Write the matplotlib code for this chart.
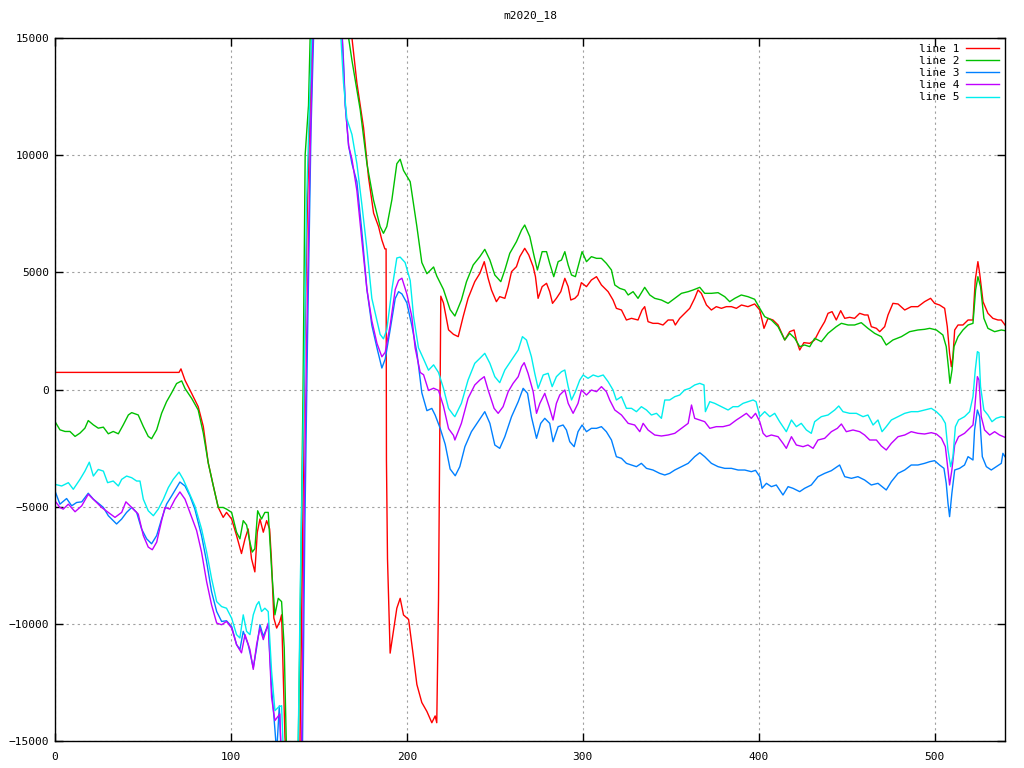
import matplotlib
matplotlib.use("Agg")
import matplotlib.pyplot as plt

title = "m2020_18"
labels = ["line 1", "line 2", "line 3", "line 4", "line 5"]
colors = ["#ff0000", "#00c000", "#0080ff", "#c000ff", "#00eeee"]
x_ticks = [0, 100, 200, 300, 400, 500]
y_ticks = [-15000, -10000, -5000, 0, 5000, 10000, 15000]

line1 = [(0,730),(70.5,730),(71.6,880),(73.9,395),(77.7,-170),(81.4,-733),(84.3,-1580),(87.1,-3130),(90,-4117),(92.8,-5034),(95.6,-5457),(97.5,-5245),(100.4,-5527),(103.2,-6232),(106,-7000),(108,-6373),(109.8,-5950),(111.7,-7219),(113.6,-7783),(115,-6090),(116.5,-5527),(118.4,-6090),(120.3,-5597),(122,-5950),(123,-7219),(124.4,-9757),(126,-10180),(127.8,-9900),(128.8,-9616),(130.7,-14833),(132,-16500),(139,-16500),(140.5,-8000),(142,2000),(143.5,8000),(145,12000),(146.5,16500),(166,17000),(168.8,15000),(171.6,13084),(175.4,11168),(178.2,9060),(181.1,7528),(183.9,6953),(185.8,6378),(187.5,6000),(188.2,6000),(188.4,-3010),(189,-7226),(190,-9908),(190.5,-11250),(192.4,-10290),(194.3,-9333),(196.2,-8912),(198.1,-9621),(201,-9812),(203.8,-11440),(205.7,-12590),(208.5,-13357),(211.4,-13740),(214.2,-14220),(216.1,-13930),(217,-14220),(218,-8950),(219.3,3983),(220.8,3696),(223.7,2546),(226.5,2354),(229.2,2255),(232,3108),(234.8,3890),(238.6,4602),(241.5,4957),(244,5455),(246.2,4744),(248.1,4246),(250.9,3748),(252.8,3962),(255.7,3890),(257.6,4389),(259.5,5028),(262.3,5242),(264.2,5669),(267,6024),(269.3,5740),(271.8,5242),(273.1,4815),(274.6,3890),(276.9,4389),(279.4,4531),(281.2,4175),(282.8,3677),(285,3890),(287.5,4175),(289.8,4744),(291.7,4389),(293.2,3819),(295.5,3890),(297.3,4033),(299.2,4559),(302.1,4389),(304.9,4673),(307.8,4815),(310.6,4460),(314.4,4175),(317.2,3819),(319.1,3464),(322,3392),(324.8,2966),(327.7,3037),(331.4,2966),(333.7,3392),(335.2,3535),(337.1,2895),(339.9,2823),(342.8,2823),(345.6,2752),(348.5,2966),(351.3,2966),(352.6,2752),(355.1,3037),(357.9,3250),(360.8,3464),(363.6,3890),(365.5,4246),(367.4,4104),(370.3,3606),(373.1,3392),(375.9,3535),(378.8,3464),(381.6,3535),(384.5,3535),(387.3,3464),(390.2,3606),(393.9,3535),(397.7,3650),(400.6,3393),(403,2610),(405.3,3037),(408.1,2966),(411,2753),(414.8,2113),(417.6,2468),(420.1,2540),(421.4,2113),(423.3,1686),(425.7,2000),(429,1970),(431.8,2113),(434.7,2540),(437.5,2895),(439.4,3251),(441.7,3322),(444.1,2966),(446.6,3365),(448.9,3037),(451.7,3080),(454.5,3037),(457.4,3251),(460.2,3180),(462.1,3180),(464,2682),(466.9,2610),(468.8,2468),(471.6,2682),(473.5,3180),(476.3,3677),(479.2,3649),(483,3393),(486.7,3535),(490.5,3535),(494.3,3749),(497.7,3891),(500,3677),(502.8,3606),(505.7,3464),(507.2,2682),(508.5,1544),(509.5,975),(510.4,1402),(511.4,2540),(513.3,2753),(516.1,2753),(519,2966),(521.8,2966),(523.1,4673),(524.6,5456),(525.6,4958),(527.5,3749),(530.3,3251),(533.1,3037),(536,2966),(537.9,2966),(540,2753)]

line2 = [(0,-1368),(2.8,-1720),(5.7,-1791),(8.5,-1791),(11.4,-2002),(14.2,-1861),(17,-1650),(18.9,-1326),(21.8,-1509),(24.6,-1650),(27.5,-1607),(30.3,-1890),(33.1,-1791),(36,-1890),(38.8,-1509),(41.7,-1086),(43.6,-987),(47.3,-1086),(50.2,-1579),(53,-2002),(54.9,-2101),(57.8,-1720),(60.6,-1015),(63.4,-522),(66.3,-141),(69.1,254),(72,367),(73.9,42),(77.7,-381),(81.4,-874),(84.3,-1861),(87.1,-3130),(90,-4117),(92.8,-5034),(95.6,-5034),(97.5,-5104),(100.4,-5245),(103.2,-6090),(105.1,-6373),(107,-5597),(108.9,-5780),(110.8,-6514),(112.1,-6937),(113.6,-6796),(115.2,-5175),(117.4,-5527),(119.3,-5245),(121.2,-5245),(123.1,-7642),(125,-9616),(126.9,-8911),(128.8,-9052),(130.3,-11026),(131,-13423),(131.6,-15500),(133,-16500),(138,-16500),(139.5,-9000),(141,0),(142.2,10020),(144.1,12126),(145.5,16500),(165,17000),(166.9,15000),(168.8,14040),(173.5,11935),(177.3,9635),(181,8100),(184.8,6953),(186.7,6665),(188.6,6953),(191.5,8100),(194.3,9635),(196.2,9827),(198.1,9348),(201.9,8868),(205.7,6953),(208.5,5420),(211.4,4941),(215.2,5228),(217,4845),(220.8,4270),(224.6,3408),(227.3,3136),(231,3819),(233.9,4602),(237.7,5313),(241.5,5669),(244.3,5981),(247.2,5526),(250,4886),(253.4,4602),(255.7,5100),(258.5,5811),(262.3,6309),(265.2,6806),(267,7020),(269.9,6522),(272.4,5669),(274.2,5100),(276.9,5882),(279.4,5882),(281.2,5384),(283.5,4815),(286,5455),(287.9,5526),(289.8,5882),(291.7,5313),(293.6,4886),(295.8,4815),(298.3,5526),(299.6,5882),(302.1,5455),(304.9,5669),(307.8,5597),(310.6,5597),(313.4,5384),(316.3,5100),(318.2,4460),(321,4317),(323.9,4246),(325.8,4033),(328.6,4175),(331.4,3890),(335.2,4360),(338.1,4033),(340.9,3890),(344.7,3819),(348.5,3677),(352.3,3890),(356.1,4104),(359.9,4175),(362.7,4246),(366.5,4360),(369.3,4104),(373.1,4104),(376.9,4132),(380.7,3961),(383.5,3748),(386.4,3890),(390.1,4033),(393.9,3961),(397.7,3850),(400.6,3464),(403.4,3109),(407.2,2966),(411,2682),(414.8,2113),(417.6,2397),(420.5,2184),(423.3,1828),(426.1,1899),(429,1828),(431.8,2184),(435.6,2042),(439.4,2397),(444.1,2682),(447,2824),(450.8,2753),(454.5,2753),(458.3,2852),(462.1,2610),(465.9,2397),(469.7,2255),(472.5,1899),(476.3,2113),(481.1,2255),(485.8,2468),(490.5,2540),(494.3,2568),(497.2,2610),(501,2540),(504.7,2326),(506.6,1828),(508,833),(508.7,264),(509.9,833),(511,1828),(513.3,2255),(516.1,2540),(519,2753),(521.8,2824),(523.3,4246),(524.6,4815),(526.1,4389),(528,3037),(530.3,2610),(534.1,2468),(537.9,2540),(540,2511)]

line3 = [(0,-4329),(2.8,-4893),(6.6,-4653),(9.5,-4963),(12.3,-4822),(15.2,-4794),(18.9,-4427),(21.8,-4681),(24.6,-4850),(27.5,-5034),(30.3,-5386),(35,-5739),(37.9,-5527),(40.7,-5245),(43.6,-5034),(46.4,-5245),(49.2,-5950),(52.1,-6373),(54.9,-6584),(57.8,-6232),(60.6,-5527),(63.4,-4893),(66.3,-4540),(71,-3948),(73.9,-4117),(76.7,-4540),(79.5,-5104),(83.3,-6232),(86.2,-7360),(89,-8629),(91.9,-9475),(94.7,-9898),(97.5,-9870),(100.4,-10110),(103.2,-10885),(105.1,-11097),(107,-10321),(109.8,-10885),(112.7,-11872),(114.6,-11026),(116.5,-10039),(118.4,-10532),(121.2,-10039),(123.1,-12718),(125,-14500),(126,-15500),(127.5,-13500),(129,-16500),(140.5,-16500),(142,-6000),(143.5,2000),(145.5,11000),(147.5,16500),(162,17000),(164,14000),(165,12126),(166.9,10400),(168.8,9635),(171.6,8869),(174.4,6761),(177.3,4270),(180.1,2738),(183,1780),(185.8,917),(187.7,1300),(190.5,2546),(193.4,3887),(195.3,4175),(197.2,4079),(200,3696),(202.8,2738),(205.7,1588),(208.5,-136),(211.4,-903),(214.2,-807),(216.1,-1094),(219,-1669),(221.8,-2340),(224.6,-3394),(227.5,-3681),(230.1,-3293),(233,-2440),(236.7,-1800),(240.5,-1373),(244.3,-946),(247.2,-1444),(250,-2369),(252.8,-2511),(255.7,-2013),(259.5,-1160),(263.3,-519),(266.1,50),(268.6,-164),(270.8,-1160),(273.7,-2084),(276.1,-1444),(278.4,-1230),(281.2,-1444),(283.1,-2227),(286,-1586),(288.8,-1515),(290.7,-1728),(292.6,-2227),(295.1,-2440),(297.3,-1800),(299.6,-1515),(302.1,-1800),(304.9,-1657),(307.8,-1657),(310.6,-1586),(313.4,-1800),(316.3,-2155),(319.1,-2867),(322,-2938),(324.8,-3151),(327.7,-3222),(330.5,-3293),(333.3,-3151),(336.2,-3365),(339.9,-3436),(343.7,-3578),(346.6,-3649),(349.4,-3578),(352.3,-3436),(356.1,-3293),(359.9,-3151),(363.6,-2867),(366.5,-2696),(369.3,-2867),(373.1,-3151),(376.9,-3293),(380.7,-3365),(384.5,-3365),(388.3,-3436),(392.1,-3436),(395.8,-3507),(398.2,-3450),(400.6,-3720),(401.9,-4217),(404.4,-4004),(407.2,-4146),(410,-4075),(413.8,-4502),(416.7,-4146),(419.5,-4217),(423.3,-4359),(426.1,-4217),(429.9,-4075),(433.7,-3720),(437.5,-3578),(441.3,-3464),(446,-3222),(448.9,-3720),(452.7,-3791),(456.4,-3720),(460.2,-3862),(464,-4075),(467.8,-4004),(472.5,-4288),(475.4,-3933),(479.2,-3578),(483,-3435),(486.7,-3222),(490.5,-3222),(494.3,-3151),(497.2,-3080),(500,-3037),(502.8,-3222),(505.3,-3364),(506.6,-4004),(507.6,-4857),(508.5,-5426),(509.8,-4430),(511.4,-3435),(514.2,-3364),(517,-3222),(519,-2866),(521.8,-3009),(522.7,-1728),(524.3,-875),(525.6,-1159),(527.1,-2866),(529.4,-3293),(532.2,-3435),(535,-3293),(537.9,-3151),(538.8,-2724),(540,-2866)]

line4 = [(0,-4752),(2.8,-5034),(4.7,-5104),(7.6,-4893),(11.4,-5217),(15.2,-4963),(18.9,-4470),(22.7,-4752),(26.5,-5034),(30.3,-5245),(34.1,-5457),(37.9,-5245),(40.3,-4794),(43.6,-5034),(47.3,-5316),(50.2,-6232),(53,-6725),(55.3,-6838),(57.8,-6514),(60.6,-5597),(62.5,-5034),(65.3,-5104),(68.2,-4681),(71,-4371),(73.9,-4681),(76.7,-5245),(80.5,-6020),(83.3,-6937),(86.2,-8206),(89,-9193),(91.9,-9968),(94.7,-10039),(97.5,-9898),(100.4,-10180),(103.2,-10885),(106,-11238),(108,-10462),(110.8,-11097),(112.7,-11943),(114.6,-10885),(116.5,-10180),(118.4,-10673),(121.2,-9968),(123.1,-13141),(125,-14128),(127.8,-13846),(129,-16500),(140,-16500),(141.5,-6000),(143,2000),(145,10000),(147,16500),(162,17000),(165,12126),(166.9,10400),(168.8,9827),(171.6,8486),(174.4,6378),(177.3,4270),(180.1,2929),(183,1971),(185.8,1396),(187.7,1588),(190.5,2738),(193.4,4270),(195.3,4654),(197.2,4750),(200,4079),(202.8,3121),(204.7,1780),(207.6,726),(209.5,630),(212.3,-40),(215.2,55),(218,-40),(220.8,-711),(223.7,-1669),(226.5,-1957),(227.3,-2155),(231,-1444),(234.8,-377),(238.6,192),(241.5,405),(244,547),(246.2,-21),(249.6,-804),(251.9,-1017),(254.7,-733),(257.6,-93),(260.4,263),(263.3,547),(265.2,974),(266.7,1145),(268.9,690),(271.8,-93),(273.7,-1017),(275.6,-591),(278.4,-164),(280.9,-733),(283.1,-1302),(285,-591),(286.9,-235),(289.8,-21),(291.7,-591),(294.5,-1017),(297.3,-591),(299.2,-21),(302.1,-235),(304.9,-21),(307.8,-93),(310.6,121),(313.4,-93),(315.3,-448),(318.2,-875),(322,-1088),(325.8,-1444),(329.5,-1515),(332.4,-1800),(334.3,-1444),(337.1,-1728),(340.9,-1942),(344.7,-1984),(348.5,-1942),(352.3,-1870),(356.1,-1657),(359.9,-1444),(361.8,-662),(363.6,-1230),(366.5,-1302),(369.3,-1373),(372.2,-1657),(375.9,-1586),(379.7,-1586),(383.5,-1515),(387.3,-1302),(390.2,-1160),(393,-1017),(395.8,-1230),(398.2,-1017),(400.6,-1373),(402.5,-1870),(404.4,-2013),(407.2,-1942),(411,-2013),(413.8,-2297),(415.7,-2511),(418.6,-2013),(421.4,-2368),(425.2,-2440),(428,-2368),(430.9,-2511),(433.7,-2155),(437.5,-2084),(441.3,-1800),(444.7,-1657),(447,-1472),(449.8,-1800),(453.6,-1728),(457.4,-1800),(460.2,-1942),(463.1,-2155),(466.9,-2155),(469.7,-2411),(472.5,-2582),(475.4,-2297),(479.2,-2013),(483,-1942),(486.7,-1800),(490.5,-1870),(494.3,-1899),(498.1,-1842),(501,-1899),(503.9,-2084),(506.1,-2440),(507.6,-3435),(508.5,-4075),(509.8,-3435),(511.4,-2368),(513.6,-2013),(517,-1870),(519.9,-1657),(521.8,-1515),(522.7,-875),(524.3,548),(525.2,406),(526.5,-1159),(528.4,-1728),(531.3,-1942),(534.1,-1800),(536.9,-1942),(540,-2041)]

line5 = [(0,-4047),(3.8,-4117),(7.6,-3976),(10.4,-4258),(14.2,-3835),(17,-3483),(19.5,-3102),(21.8,-3694),(24.6,-3412),(27.5,-3483),(29.9,-3976),(33.1,-3906),(36,-4117),(37.9,-3835),(40.7,-3694),(43.6,-3765),(46.4,-3906),(48.3,-3906),(50.2,-4681),(53,-5175),(55.9,-5386),(58.7,-5104),(61.6,-4681),(64.4,-4188),(67.2,-3835),(70.5,-3525),(72.9,-3835),(75.8,-4329),(79.5,-4963),(83.3,-5950),(86.2,-6937),(89,-8065),(91.9,-9052),(94.7,-9264),(97.5,-9334),(100.4,-9757),(103.2,-10462),(105.1,-10603),(107,-9616),(108.9,-10321),(110.8,-10462),(112.7,-9616),(114.6,-9193),(115.9,-9052),(117.4,-9475),(119.3,-9334),(121.2,-9475),(123.1,-12013),(125,-13705),(126.9,-13564),(128.8,-13493),(130.3,-16500),(138,-16500),(139.5,-8000),(141.5,0),(143,8000),(145,13000),(146.5,16500),(161,17000),(162.5,15000),(164,13084),(165.9,11550),(168.8,10880),(171.6,9635),(174.4,7911),(177.3,5995),(180.1,3887),(183,2929),(184.8,2354),(186.7,2163),(188.6,2546),(191.5,4270),(194.3,5612),(196.2,5650),(199,5420),(201.9,4654),(203.8,3121),(206.6,1780),(209.5,1300),(212.3,822),(215.2,1052),(218,726),(220.8,55),(223.7,-807),(226.5,-1094),(227.3,-1160),(231,-591),(234.8,405),(238.6,1117),(241.5,1330),(244.3,1543),(247.2,1117),(250,547),(252.8,292),(255.7,832),(259.5,1259),(263.3,1685),(265.7,2255),(268,2112),(270.8,1401),(272.7,690),(274.6,50),(277.5,619),(280.3,690),(282.6,121),(285,547),(287.9,761),(289.8,832),(291.7,121),(293.6,-448),(295.8,-93),(298.3,405),(300.2,619),(303,476),(305.9,619),(308.7,547),(311.6,619),(314.4,334),(317.2,-21),(319.1,-448),(322,-306),(324.8,-804),(327.7,-804),(330.5,-946),(333.3,-733),(336.2,-875),(339,-1088),(341.9,-1017),(344.7,-1230),(346.6,-448),(349.4,-448),(352.3,-306),(355.1,-235),(357.9,-21),(360.8,50),(363.6,192),(366.5,263),(368.9,192),(369.7,-946),(372.2,-519),(375,-591),(378.8,-733),(382.6,-875),(385.4,-733),(388.3,-733),(391.1,-591),(393.9,-519),(396.8,-448),(398.5,-519),(400.6,-1159),(403.4,-946),(406.3,-1159),(409.1,-1017),(411.9,-1373),(415.7,-1800),(418.6,-1301),(421.4,-1586),(424.2,-1444),(427.1,-1728),(429.9,-1870),(431.8,-1373),(435.6,-1159),(439.4,-1088),(443.2,-875),(445.5,-704),(447.9,-946),(451.7,-1017),(455.5,-1017),(459.3,-1159),(462.1,-1088),(465,-1515),(467.8,-1301),(470.1,-1800),(472.5,-1586),(475.4,-1301),(479.2,-1159),(483,-1017),(486.7,-946),(490.5,-946),(494.3,-875),(498.1,-804),(501,-946),(503.9,-1159),(506.1,-1444),(507.6,-2582),(509.1,-3293),(510.4,-2866),(511.8,-1586),(513.6,-1301),(517,-1159),(519.9,-946),(521.8,-306),(523.1,832),(524.3,1615),(525.2,1572),(526.1,121),(528,-875),(530.3,-1088),(532.6,-1373),(535,-1230),(537.9,-1159),(540,-1188)]

series = [line1, line2, line3, line4, line5]

plt.rcParams['font.family'] = ['DejaVu Sans Mono']
fig = plt.figure(figsize=(10.24, 7.68), dpi=100)
ax = fig.add_axes([55/1024, 27/768, 950/1024, 703/768])

for data, lab, col in zip(series, labels, colors):
    xs = [p[0] for p in data]
    ys = [p[1] for p in data]
    ax.plot(xs, ys, color=col, lw=1.0, label=lab)

ax.set_xlim(0, 540)
ax.set_ylim(-15000, 15000)
ax.set_xticks(x_ticks)
ax.set_yticks(y_ticks)
ax.tick_params(direction='in', length=6, width=1, top=True, right=True,
               labelsize=8, colors='black')
ax.tick_params(axis='x', pad=8)
ax.tick_params(axis='y', pad=4)
ax.grid(True, color='#a0a0a0', linestyle=(0, (2, 3)), linewidth=0.8)
for s in ax.spines.values():
    s.set_linewidth(1.0)
ax.set_title(title, fontsize=8, pad=14)

leg = ax.legend(loc='upper right', frameon=False, markerfirst=False,
                fontsize=8, handlelength=3.0, handletextpad=0.6,
                labelspacing=0.2, borderaxespad=0.3, borderpad=0.2)

fig.savefig("out.png", dpi=100)
